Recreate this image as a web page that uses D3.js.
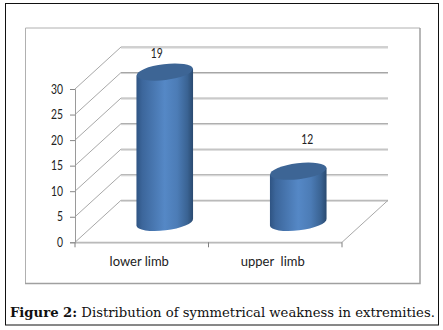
<!DOCTYPE html>
<html>
<head>
<meta charset="utf-8">
<script src="https://cdn.jsdelivr.net/npm/d3@7"></script>
<style>
  html, body { margin: 0; padding: 0; background: #fff; }
  svg { display: block; }
</style>
</head>
<body>
<div id="chart"></div>
<script>
var categories = ["lower limb", "upper  limb"],
    barHeights = [29.4, 10],  // height the cylinders are actually drawn at
    barLabels = ["19", "12"], // labels printed above them (they disagree with the axis in the original)
    yTicks = [0, 5, 10, 15, 20, 25, 30];

var width = 443, height = 330;
var depthX = 46, depthY = 42; // 3d offset of the back wall
var labelFont = "Lato, 'Open Sans', sans-serif";

var svg = d3.select("#chart").append("svg")
    .attr("width", width)
    .attr("height", height);

var y = d3.scaleLinear().domain([0, 30]).range([242.3, 89]);
var x = d3.scaleBand().domain(categories).range([75, 342]);

var defs = svg.append("defs");
var grad = defs.append("linearGradient").attr("id", "cyl");
[[0, "#2f5483"], [0.1, "#3c669b"], [0.5, "#5588c6"], [0.72, "#4c7cb6"], [0.9, "#3a6393"], [1, "#2a4a70"]].forEach(function(s) {
  grad.append("stop").attr("offset", s[0]).attr("stop-color", s[1]);
});

// digits in the original are narrower than Lato's, squeeze them
function styleDigits(sel) {
  sel.attr("font-family", labelFont)
      .attr("font-size", 13)
      .attr("fill", "#222")
      .attr("lengthAdjust", "spacingAndGlyphs")
      .attr("textLength", function() { return this.textContent.length * 6; });
}

// page border and chart frame
svg.append("rect").attr("x", 5.5).attr("y", 3.5).attr("width", 433).attr("height", 321.5)
    .attr("fill", "#fff").attr("stroke", "#111").attr("stroke-width", 1);
svg.append("path")
    .attr("d", "M25.5,283V28H420")
    .attr("fill", "none").attr("stroke", "#b0b0b0").attr("stroke-width", 1);
svg.append("path")
    .attr("d", "M420,28V283.5H25")
    .attr("fill", "none").attr("stroke", "#a0a0a0").attr("stroke-width", 1.5);

// two-tone horizontal rule used for the gridlines and floor
function rule(g, x1, x2, yPos) {
  g.append("line").attr("x1", x1).attr("x2", x2).attr("y1", yPos).attr("y2", yPos)
      .attr("stroke", "#a2a2a2").attr("stroke-width", 1);
  g.append("line").attr("x1", x1).attr("x2", x2).attr("y1", yPos + 1).attr("y2", yPos + 1)
      .attr("stroke", "#d0d0d0").attr("stroke-width", 1);
}

// gridlines on the back wall, with the diagonal running to the front axis
var grid = svg.append("g");
yTicks.forEach(function(t) {
  grid.append("line")
      .attr("x1", x.range()[0]).attr("y1", y(t))
      .attr("x2", x.range()[0] + depthX).attr("y2", y(t) - depthY)
      .attr("stroke", "#a8a8a8").attr("stroke-width", 1);
  rule(grid, x.range()[0] + depthX, x.range()[1] + depthX, y(t) - depthY);
});

// floor
rule(grid, x.range()[0], x.range()[1], y(0));
grid.append("line")
    .attr("x1", x.range()[1]).attr("y1", y(0))
    .attr("x2", x.range()[1] + depthX).attr("y2", y(0) - depthY)
    .attr("stroke", "#a8a8a8").attr("stroke-width", 1);
x.domain().concat([null]).forEach(function(c) {
  var tx = c === null ? x.range()[1] : x(c);
  grid.append("line")
      .attr("x1", tx).attr("y1", y(0))
      .attr("x2", tx).attr("y2", y(0) + 5)
      .attr("stroke", "#808080");
});

// value axis
var yAxis = d3.axisLeft(y).tickValues(yTicks).tickSize(5).tickPadding(7);
var axisG = svg.append("g")
    .attr("transform", "translate(" + x.range()[0] + ",0)")
    .call(yAxis);
axisG.select(".domain").attr("stroke", "#9a9a9a");
axisG.selectAll(".tick line").attr("stroke", "#888");
axisG.selectAll("text").call(styleDigits);

// cylinders
var rx = 28.3, ry = 8, tilt = -7;
var floorLift = 20;
var bars = svg.selectAll(".bar")
    .data(categories)
    .enter().append("g")
    .attr("class", "bar")
    .attr("transform", function(d) {
      return "translate(" + (x(d) + x.bandwidth() / 2 + 23) + ",0)";
    });

bars.append("path")
    .attr("fill", "url(#cyl)")
    .attr("d", function(d, i) {
      var dy = rx * Math.sin(tilt * Math.PI / 180);
      var base = y(0) - floorLift, top = y(barHeights[i]) - floorLift;
      return "M" + (-rx) + "," + (top - dy) +
        "L" + (-rx) + "," + (base - dy) +
        "A" + rx + "," + ry + " " + tilt + " 0 0 " + rx + "," + (base + dy) +
        "L" + rx + "," + (top + dy) + "Z";
    });

bars.append("ellipse")
    .attr("rx", rx)
    .attr("ry", ry)
    .attr("fill", "#3d6595")
    .attr("transform", function(d, i) {
      return "translate(0," + (y(barHeights[i]) - floorLift) + ") rotate(" + tilt + ")";
    });

// the printed labels sit off-centre in the original
var labelDx = [-8, 9], labelDy = [-14, -27];
bars.append("text")
    .attr("text-anchor", "middle")
    .attr("x", function(d, i) { return labelDx[i]; })
    .attr("y", function(d, i) { return y(barHeights[i]) - floorLift + labelDy[i]; })
    .text(function(d, i) { return barLabels[i]; })
    .call(styleDigits);

// category labels
svg.selectAll(".cat")
    .data(categories)
    .enter().append("text")
    .attr("class", "cat")
    .attr("x", function(d) { return x(d) + x.bandwidth() / 2 - 2.5; })
    .attr("y", 266)
    .attr("text-anchor", "middle")
    .style("white-space", "pre")
    .attr("font-family", labelFont)
    .attr("font-size", 13)
    .attr("fill", "#222")
    .text(function(d) { return d; });

// caption
var caption = svg.append("text")
    .attr("x", 10)
    .attr("y", 317)
    .attr("font-family", "'DejaVu Serif', serif")
    .attr("font-size", 13.2)
    .attr("fill", "#111");
caption.append("tspan").attr("font-weight", "bold").text("Figure 2:");
caption.append("tspan").text(" Distribution of symmetrical weakness in extremities.");
</script>
</body>
</html>
